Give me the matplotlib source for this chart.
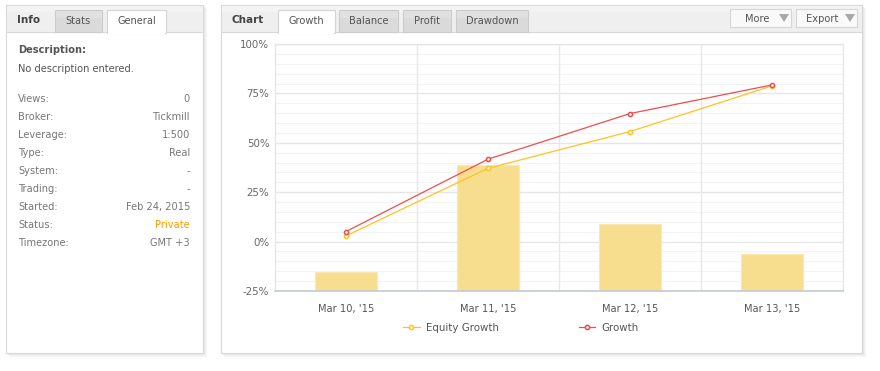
import matplotlib
matplotlib.use("Agg")
import matplotlib.pyplot as plt
from matplotlib.patches import Rectangle, Polygon
import numpy as np

# ---- data ----
categories = ["Mar 10, '15", "Mar 11, '15", "Mar 12, '15", "Mar 13, '15"]
bar_values = [-15.5, 39.0, 9.0, -6.5]
growth = [5.1, 41.7, 64.8, 79.3]
equity_growth = [2.9, 37.1, 55.7, 78.8]
y_ticks = [-25, 0, 25, 50, 75, 100]
y_tick_labels = ["-25%", "0%", "25%", "50%", "75%", "100%"]

info_labels = ["Views:", "Broker:", "Leverage:", "Type:", "System:", "Trading:",
               "Started:", "Status:", "Timezone:"]
info_values = ["0", "Tickmill", "1:500", "Real", "-", "-", "Feb 24, 2015",
               "Private", "GMT +3"]

FS = 7.1
TXT = "#666666"
W, H = 880, 371

plt.rcParams['font.family'] = ['DejaVu Sans']
fig = plt.figure(figsize=(W / 100, H / 100), dpi=100)
fig.patch.set_facecolor("white")

ui = fig.add_axes([0, 0, 1, 1], zorder=0)
ui.set_xlim(0, W)
ui.set_ylim(H, 0)
ui.axis("off")


def rect(x0, y0, x1, y1, fc, ec="none", lw=1.0, z=1):
    ui.add_patch(Rectangle((x0, y0), x1 - x0, y1 - y0, facecolor=fc,
                           edgecolor=ec, linewidth=lw, zorder=z))


def panel(x0, y0, x1, y1):
    # soft shadow
    for i, c in enumerate(["#f6f6f6", "#efefef", "#e8e8e8", "#e0e0e0"]):
        off = 4 - i
        rect(x0 + off, y0 + off, x1 + off, y1 + off, c, z=0.5 + i * 0.1)
    rect(x0, y0, x1, y1, "white", ec="#d8d8d8", lw=0.8, z=1)
    # header
    rect(x0 + 0.5, y0 + 0.5, x1 - 0.5, 32, "#efefef", z=1.5)
    rect(x0 + 0.5, y0 + 0.5, x1 - 0.5, 12, "#f3f3f3", z=1.55)
    ui.plot([x0, x1], [32, 32], color="#d8d8d8", lw=0.8, zorder=1.6)


def tab(x0, x1, label, active):
    if active:
        rect(x0, 10, x1, 33, "white", ec="#d4d4d4", lw=0.8, z=2)
        rect(x0 + 0.6, 31.5, x1 - 0.6, 33.5, "white", z=2.1)
    else:
        rect(x0, 10, x1, 32, "#dadada", ec="#cccccc", lw=0.8, z=2)
        rect(x0 + 0.5, 10.5, x1 - 0.5, 18, "#e0e0e0", z=2.05)
    ui.text((x0 + x1) / 2, 21.5, label, ha="center", va="center",
            fontsize=FS, color="#555555", zorder=3)


# ---- left panel ----
panel(6, 5, 203, 353)
ui.text(17, 20, "Info", fontsize=FS + 0.4, fontweight="bold", color="#444444",
        va="center", zorder=3)
tab(55, 102, "Stats", False)
tab(107, 166, "General", True)

ui.text(18, 50, "Description:", fontsize=FS, fontweight="bold", color="#555555",
        va="center", zorder=3)
ui.text(18, 69.5, "No description entered.", fontsize=FS, color="#555555",
        va="center", zorder=3)
for i, (lab, val) in enumerate(zip(info_labels, info_values)):
    yy = 99 + i * 18
    ui.text(18, yy, lab, fontsize=FS, color="#777777", va="center", zorder=3)
    ui.text(190, yy, val, fontsize=FS, ha="right", va="center", zorder=3,
            color="#ff9900" if val == "Private" else "#777777")

# ---- right panel ----
panel(221, 5, 862, 353)
ui.text(231, 20, "Chart", fontsize=FS + 0.4, fontweight="bold", color="#444444",
        va="center", zorder=3)
tab(278, 335, "Growth", True)
tab(339, 398, "Balance", False)
tab(403, 451, "Profit", False)
tab(456, 528, "Drawdown", False)


def button(x0, x1, label, tx):
    rect(x0, 9, x1, 27, "#f9f9f9", ec="#d6d6d6", lw=0.8, z=2)
    ui.text(tx, 18.5, label, fontsize=FS, color="#555555", ha="center",
            va="center", zorder=3)
    ax_ = x1 - 7
    ui.add_patch(Polygon([[ax_ - 5, 14], [ax_ + 5, 14], [ax_, 22]],
                         closed=True, facecolor="#a8a8a8", edgecolor="none",
                         zorder=3))


button(730, 791, "More", 757)
button(796, 857, "Export", 822)

# ---- chart axes ----
L, R, T, B = 275, 843, 44, 291
ax = fig.add_axes([L / W, (H - B) / H, (R - L) / W, (B - T) / H], zorder=2)
ax.set_facecolor("none")
x = np.arange(len(categories))
ax.set_xlim(-0.5, len(categories) - 0.5)
ax.set_ylim(-25, 100)

for v in np.arange(-25, 100.1, 5):
    major = (v % 25 == 0)
    ax.axhline(v, color="#e6e6e6" if major else "#f3f3f3",
               lw=1.0 if major else 0.8, zorder=0)
for b in np.arange(0.5, len(categories) - 0.5, 1):
    ax.axvline(b, color="#e8e8e8", lw=1.0, zorder=0)

ax.bar(x, np.array(bar_values) + 25, bottom=-25, width=0.43,
       color="#f7de8f", edgecolor="#fae8b2", linewidth=0.8, zorder=1)

l_eq, = ax.plot(x, equity_growth, color="#ffc21f", lw=0.9, marker="o",
                markersize=3.0, markerfacecolor="white",
                markeredgecolor="#ffc21f", markeredgewidth=1.1, zorder=3,
                label="Equity Growth")
l_gr, = ax.plot(x, growth, color="#ee4d4d", lw=0.9, marker="o",
                markersize=3.0, markerfacecolor="white",
                markeredgecolor="#ee4d4d", markeredgewidth=1.1, zorder=4,
                label="Growth")

ax.set_yticks(y_ticks)
ax.set_yticklabels(y_tick_labels)
ax.set_xticks(x)
ax.set_xticklabels(categories)
ax.tick_params(axis="y", length=0, pad=4, labelsize=FS + 0.3, labelcolor=TXT)
ax.tick_params(axis="x", length=0, pad=9.5, labelsize=FS, labelcolor="#555555")
for s in ["left", "right", "top"]:
    ax.spines[s].set_color("#e6e6e6")
    ax.spines[s].set_linewidth(1.0)
ax.spines["bottom"].set_color("#c2cad8")
ax.spines["bottom"].set_linewidth(1.2)

leg = fig.legend(handles=[l_eq, l_gr], loc="center",
                 bbox_to_anchor=(521 / W, (H - 328) / H), ncol=2, frameon=False,
                 fontsize=FS + 0.3, handlelength=1.6, handletextpad=0.6,
                 columnspacing=7.8, labelcolor="#555555")

fig.savefig("out.png", dpi=100, facecolor="white")
